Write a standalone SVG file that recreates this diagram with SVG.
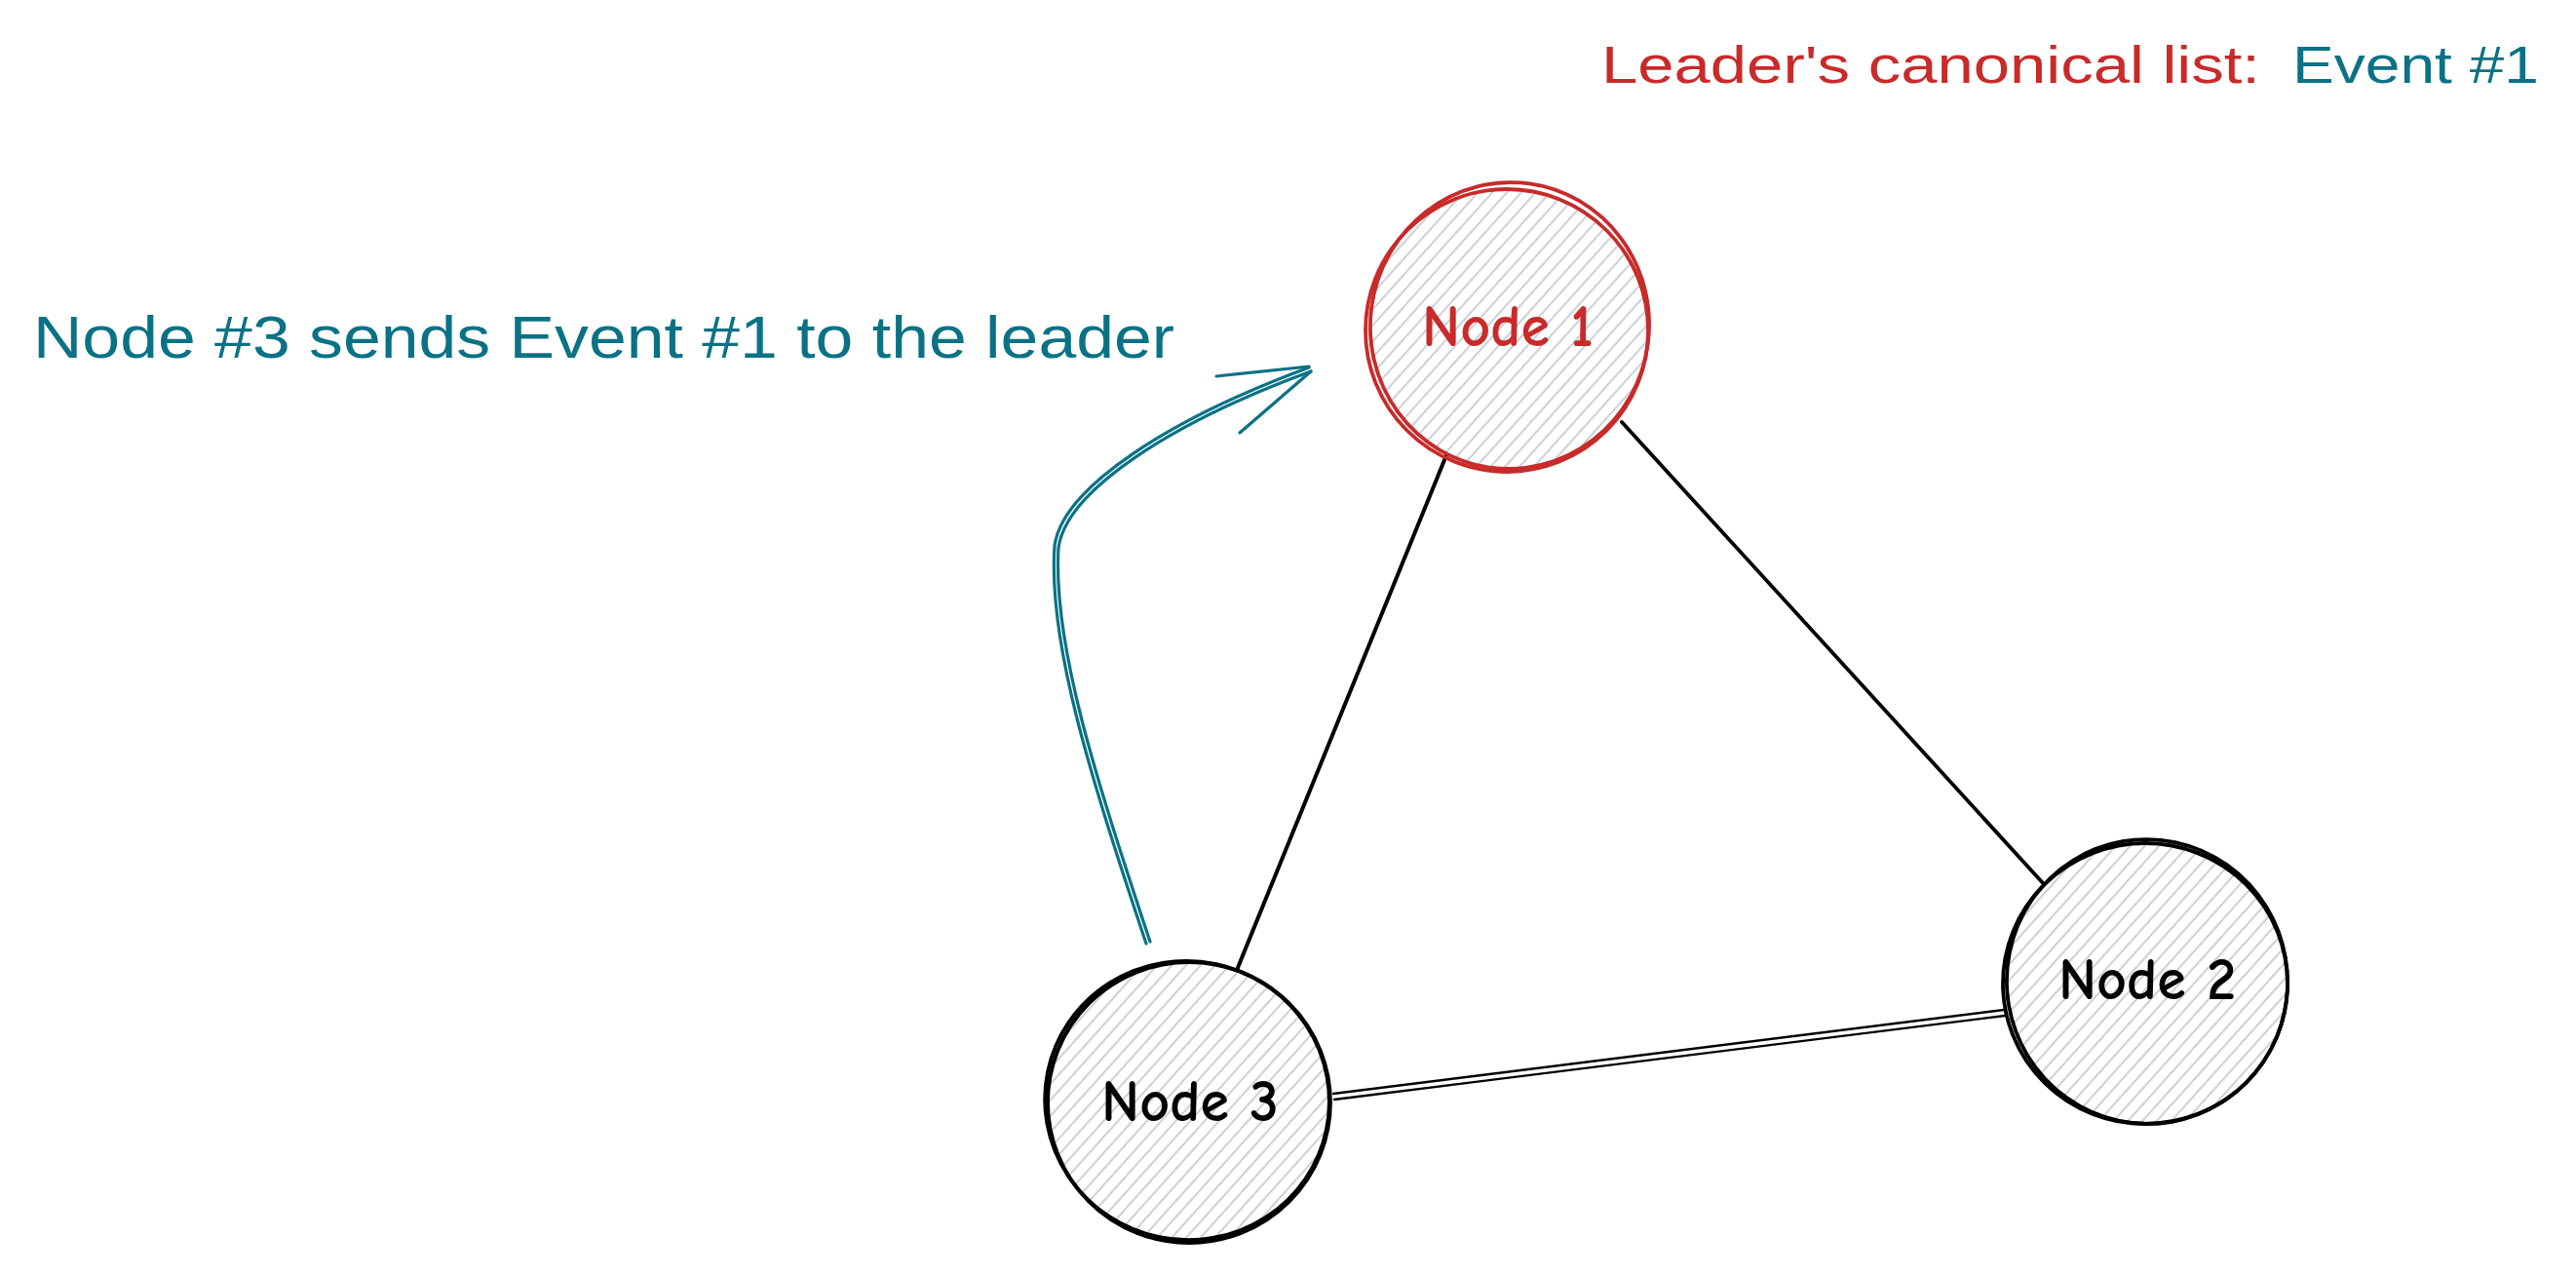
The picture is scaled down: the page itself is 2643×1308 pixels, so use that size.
<svg xmlns="http://www.w3.org/2000/svg" width="2643" height="1308" viewBox="0 0 2643 1308">
<style>
.node-fill{fill:url(#hatch);}
.ring{fill:none;stroke-width:3.8;stroke-linecap:round;}
.ring-red{stroke:#c92a2a;}
.ring-black{stroke:#000;}
.label{font-family:"Comic Neue","Liberation Sans",Arial,sans-serif;font-size:60px;font-weight:bold;}
.conn{stroke:#000;fill:none;stroke-linecap:round;}
.teal{stroke:#0b7285;fill:none;stroke-width:3.2;stroke-linecap:round;}
.note{font-family:"Liberation Sans",Arial,sans-serif;}
</style>
<defs>
<pattern id="hatch" patternUnits="userSpaceOnUse" width="11" height="11" patternTransform="rotate(-48)">
<rect width="11" height="11" fill="#ffffff"/>
<line x1="0" y1="5" x2="11" y2="5" stroke="#c5ccd3" stroke-width="1.8"/>
</pattern>
</defs>
<rect width="2643" height="1308" fill="#ffffff"/>

<g id="connectors">
<line class="conn" x1="1484" y1="467" x2="1267" y2="1000" stroke-width="4"/>
<line class="conn" x1="1664" y1="433" x2="2097" y2="907" stroke-width="3.8"/>
<line class="conn" x1="1368" y1="1122" x2="2056" y2="1036" stroke-width="2.4"/>
<line class="conn" x1="1369" y1="1128" x2="2057" y2="1042" stroke-width="2.4"/>
<path class="teal" d="M1176,968 C1120,800 1075,660 1082,560 C1090,500 1200,430 1343,377"/>
<path class="teal" d="M1180,966 C1125,800 1080,662 1086,562 C1094,503 1203,433 1345,381"/>
<path class="teal" d="M1248,386 L1343,376 M1272,444 L1345,381"/>
</g>

<g id="node1">
<circle class="node-fill" cx="1546" cy="338" r="143"/>
<ellipse class="ring ring-red" cx="1546" cy="339" rx="145" ry="145"/>
<ellipse class="ring ring-red" cx="1549" cy="334" rx="143" ry="147" transform="rotate(8 1549 334)"/>
<text class="label" x="1547" y="355" text-anchor="middle" fill="#c92a2a">Node 1</text>
</g>

<g id="node2">
<circle class="node-fill" cx="2201" cy="1009" r="144"/>
<ellipse class="ring ring-black" cx="2201" cy="1009" rx="146" ry="144"/>
<ellipse class="ring ring-black" cx="2203" cy="1007" rx="144" ry="146" transform="rotate(-10 2203 1007)"/>
<text class="label" x="2203" y="1025" text-anchor="middle" fill="#000">Node 2</text>
</g>

<g id="node3">
<circle class="node-fill" cx="1220" cy="1131" r="144"/>
<ellipse class="ring ring-black" cx="1220" cy="1131" rx="145" ry="144"/>
<ellipse class="ring ring-black" cx="1218" cy="1129" rx="146" ry="143" transform="rotate(12 1218 1129)"/>
<text class="label" x="1221" y="1150" text-anchor="middle" fill="#000">Node 3</text>
</g>

<g id="annotation">
<text class="note" x="34" y="367" font-size="62" fill="#0b7285" textLength="1171" lengthAdjust="spacingAndGlyphs">Node #3 sends Event #1 to the leader</text>
</g>

<g id="leader-list">
<text class="note" y="85" font-size="54"><tspan x="1643" fill="#c92a2a" textLength="676" lengthAdjust="spacingAndGlyphs">Leader's canonical list:</tspan><tspan x="2352" fill="#0b7285" textLength="253" lengthAdjust="spacingAndGlyphs">Event #1</tspan></text>
</g>
</svg>
